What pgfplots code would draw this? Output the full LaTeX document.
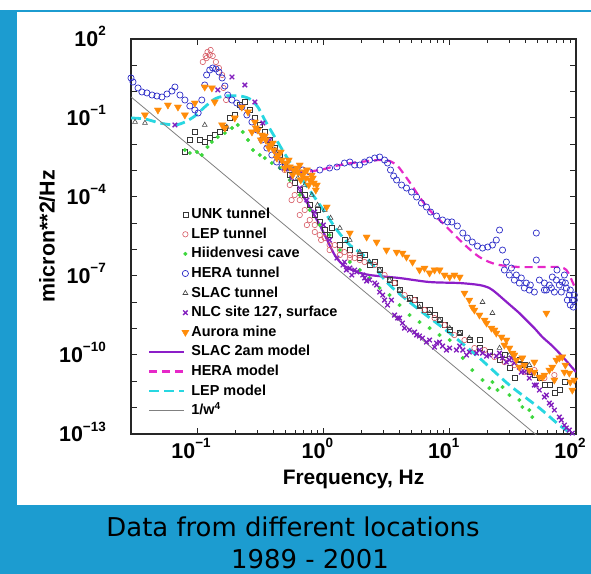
\documentclass[border=0pt]{standalone}
\usepackage{pgfplots}
\pgfplotsset{compat=1.18}
\usepackage{fontspec}
\setmainfont{Liberation Sans}
\newfontfamily\capfont{DejaVu Sans}
\definecolor{frameblue}{RGB}{28,156,208}
\definecolor{unkc}{RGB}{55,55,55}
\definecolor{lepc}{RGB}{215,90,100}
\definecolor{hiic}{RGB}{60,215,60}
\definecolor{herac}{RGB}{45,45,200}
\definecolor{slacc}{RGB}{70,70,70}
\definecolor{nlcc}{RGB}{130,30,190}
\definecolor{aurc}{RGB}{255,140,10}
\definecolor{slacm}{RGB}{140,30,200}
\definecolor{heram}{RGB}{230,40,200}
\definecolor{lepm}{RGB}{40,215,225}
\newcommand{\tl}[1]{{\fontsize{21.5}{21.5}\selectfont\bfseries 10\raisebox{10.5bp}{\fontsize{13.5}{13.5}\selectfont\bfseries #1}}}
\pgfplotsset{
  markleg/.style={legend image code/.code={\path[draw=none,fill=none] (0bp,0bp) -- (41bp,0bp); \draw[##1] plot coordinates {(36bp,0bp)};}},
  lineleg/.style={legend image code/.code={\path[draw=none,fill=none] (0bp,0bp) -- (41bp,0bp); \draw[##1] (0bp,0bp) -- (35bp,0bp);}},
}
\begin{document}
\begin{tikzpicture}[x=1bp,y=1bp]
\useasboundingbox (0,0) rectangle (591,574);
\fill[white] (0,0) rectangle (591,574);
\fill[frameblue] (0,0) rectangle (591,69);
\fill[frameblue] (0,0) rectangle (17,564);
\fill[frameblue] (0,562) rectangle (591,564);
\node[anchor=base] at (293,37) {\capfont\fontsize{26}{26}\selectfont Data from different locations};
\node[anchor=base] at (310,5) {\capfont\fontsize{26}{26}\selectfont 1989 - 2001};
\node[anchor=base] at (353.5,89) {\fontsize{21}{21}\selectfont\bfseries Frequency, Hz};
\node[rotate=90, anchor=center] at (47,338) {\fontsize{21.5}{21.5}\selectfont\bfseries micron**2/Hz};
\begin{axis}[
  at={(131bp,140bp)}, anchor=south west,
  width=445bp, height=395bp, scale only axis,
  xmode=log, ymode=log,
  xmin=0.03, xmax=100, ymin=1e-13, ymax=100,
  xtick={0.1,1,10,100},
  xticklabels={\tl{−1},\tl{0},\tl{1},\tl{2}},
  ytick={1e-13,1e-12,1e-11,1e-10,1e-9,1e-8,1e-7,1e-6,1e-5,1e-4,1e-3,1e-2,1e-1,1,10,100},
  yticklabels={\tl{−13},,,\tl{−10},,,\tl{−7},,,\tl{−4},,,\tl{−1},,,\tl{2}},
  yminorticks=false,
  tick align=inside,
  major tick length=6bp, minor tick length=4bp,
  axis line style={line width=1.3bp, black!85},
  every tick/.style={line width=1bp, black!85},
  xticklabel style={anchor=base, inner sep=0pt, yshift=-24bp, xshift=-6bp},
  yticklabel style={anchor=base east, inner sep=0pt, xshift=-25bp, yshift=-7.5bp},
  legend style={draw=none, fill=none, at={(0.031,0.581)}, anchor=north west,
    font=\fontsize{14.5}{15}\selectfont\bfseries, row sep=3.6bp,
    nodes={inner sep=1bp, text height=11bp, text depth=3bp}},
  legend cell align=left,
]
% UNK tunnel
\addplot[only marks, mark=square, mark size=2.5bp, unkc, line width=0.6bp, markleg] coordinates {
(0.080,5.1e-3)(0.0877,0.0146)(0.0961,0.0294)(0.105,0.0146)(0.115,0.0123)(0.126,0.0174)
(0.138,0.0226)(0.152,0.0294)(0.166,0.0417)(0.182,0.10)(0.199,0.130)(0.218,0.311)
(0.239,0.405)(0.262,0.201)(0.287,0.10)(0.314,0.0542)(0.344,0.0294)(0.377,0.0146)
(0.412,7.25e-3)(0.452,3.93e-3)(0.494,1.64e-3)(0.542,6.84e-4)(0.593,3.4e-4)(0.650,1.84e-4)
(0.712,1.19e-4)(0.780,4.95e-5)(0.855,2.07e-5)(0.936,1.13e-5)(1.025,5.57e-6)(1.12,3.6e-6)
(1.35,1.5e-6)(1.62,9.68e-7)(1.94,4.8e-7)(2.32,2.61e-7)(2.79,1.69e-7)(3.34,7.03e-8)
(4.01,2.93e-8)(4.81,1.45e-8)(5.77,7.89e-9)(6.93,5.09e-9)(8.31,2.12e-9)(10.0,8.87e-10)
(12.0,6.8e-10)(14.3,3.7e-10)(17.2,1.84e-10)(20.6,1.29e-10)(24.8,6.43e-11)(29.7,3.19e-11)
(32.5,1.33e-11)(35.6,6.43e-11)(42.7,2.25e-11)(51.3,1.33e-11)(61.5,7.22e-12)(67.4,3.58e-12)
(73.8,4.66e-12)(80.9,9.4e-12)
(0.90,3.2e-5)(1.17,6.64e-6)(1.47,2.32e-6)(2.12,6.25e-7)(2.55,3.39e-7)(3.66,5.4e-8)
(5.27,1.22e-8)(6.32,5.09e-9)(7.59,3.29e-9)(9.10,1.37e-9)
(17.2,3.7e-10)(27.1,9.96e-11)(56.2,7.22e-12)(46.8,1.73e-11)(39,4.15e-11)
};
\addlegendentry{UNK tunnel}
% LEP tunnel
\addplot[only marks, mark=o, mark size=2.7bp, lepc, line width=0.6bp, markleg] coordinates {
(0.111,13.4)(0.117,22.6)(0.121,32.1)(0.128,38.2)(0.133,22.6)(0.141,13.4)(0.149,7.92)
(0.158,4.30)(0.126,24.7)(0.119,18.9)(0.162,1.38)(0.170,0.482)
(0.412,6.08e-3)(0.452,2.54e-3)(0.494,1.06e-3)(0.542,2.85e-4)(0.593,1.19e-4)(0.650,7.67e-5)
(0.712,3.2e-5)(0.780,1.34e-5)(0.855,8.63e-6)(0.936,3.6e-6)(1.025,2.77e-6)(1.12,1.5e-6)
(1.23,1.5e-6)(1.35,9.68e-7)(1.47,8.1e-7)(1.62,6.25e-7)(1.77,4.8e-7)(1.94,6.25e-7)
(2.12,3.39e-7)(2.55,2.61e-7)(3.05,1.09e-7)(3.66,5.4e-8)(4.39,1.89e-8)(5.27,1.22e-8)
(6.32,5.09e-9)(7.59,2.53e-9)(9.10,1.37e-9)(10.9,5.73e-10)(13.1,3.7e-10)(15.7,1.84e-10)
(18.9,1.54e-10)(22.6,8.4e-11)(27.1,5.4e-11)(32.5,4.15e-11)(39.0,2.25e-11)(46.8,2.68e-11)
(56.2,1.33e-11)(67.4,1.73e-11)
(0.56,7.67e-5)(0.650,2.07e-5)(0.74,8.63e-6)(0.855,4.68e-6)(0.96,2.32e-6)(1.12,9.68e-7)
(1.35,6.25e-7)(1.62,4.8e-7)(1.94,4.04e-7)
};
\addlegendentry{LEP tunnel}
% Hiidenvesi cave
\addplot[only marks, mark=*, mark size=1.8bp, hiic, markleg] coordinates {
(0.0801,6.08e-3)(0.0877,4.68e-3)(0.1,5.1e-3)(0.109,3.93e-3)(0.121,7.9e-3)(0.131,0.0123)
(0.146,0.019)(0.166,0.0269)(0.189,0.0417)(0.210,0.0542)(0.230,0.0294)(0.253,0.0146)
(0.277,6.08e-3)(0.314,3.93e-3)(0.344,3.02e-3)(0.391,1.95e-3)(0.452,1.26e-3)(0.542,4.42e-4)
(0.650,1.19e-4)(0.780,3.2e-5)(0.936,8.63e-6)(1.12,3.6e-6)(1.35,9.68e-7)(1.62,3.39e-7)
(1.94,1.69e-7)(2.32,8.4e-8)(2.79,3.5e-8)(3.34,1.89e-8)(4.01,7.89e-9)(4.81,3.29e-9)
(5.77,1.78e-9)(6.93,1.05e-9)(8.31,5.73e-10)(10,3.7e-10)(12.7,7.7e-11)(15.1,2.68e-11)
(18.2,1.12e-11)(20.6,5.55e-12)(21.8,9.4e-12)(23.9,4.66e-12)(26.2,6.06e-12)(29.7,3.01e-12)
(35.6,1.95e-12)(37.6,1.06e-12)(42.7,8.11e-13)(45.1,4.4e-13)
};
\addlegendentry{Hiidenvesi cave}
% HERA tunnel
\addplot[only marks, mark=o, mark size=3.1bp, herac, line width=0.7bp, markleg] coordinates {
(0.030,3.31)(0.0311,2.33)(0.0341,1.38)(0.0366,0.974)(0.0401,0.894)(0.044,0.746)
(0.0481,0.684)(0.0527,0.627)(0.0578,0.814)(0.0633,1.06)(0.0668,1.50)(0.0732,0.746)
(0.0801,0.482)(0.0877,0.285)(0.0961,0.201)(0.102,0.155)(0.109,0.482)(0.115,1.79)
(0.119,4.30)(0.126,6.65)(0.133,7.92)(0.141,7.26)(0.149,5.58)(0.158,3.31)(0.166,1.64)
(0.175,0.746)(0.189,0.482)(0.206,0.371)(0.226,0.261)(0.248,0.130)(0.272,0.0704)
(0.298,0.035)(0.326,0.0146)(0.357,7.25e-3)(0.391,3.93e-3)(0.427,2.13e-3)(0.469,1.38e-3)
(0.523,1.26e-3)(0.593,1.06e-3)(0.686,1.06e-3)(0.780,8.9e-4)(0.936,1.06e-3)(1.12,1.26e-3)
(1.28,1.38e-3)(1.47,1.95e-3)(1.62,2.13e-3)(1.77,1.64e-3)(1.94,1.64e-3)(2.12,2.13e-3)
(2.32,2.54e-3)(2.55,3.02e-3)(2.79,3.3e-3)(3.05,2.54e-3)(3.22,1.95e-3)(3.40,1.06e-3)
(3.60,6.27e-4)(3.80,4.42e-4)(4.16,2.85e-4)(4.55,2.19e-4)(4.99,1.54e-4)(5.47,1.0e-4)
(5.98,5.9e-5)(6.55,4.16e-5)(7.06,2.69e-5)(7.87,1.9e-5)(8.78,1.34e-5)(9.61,1.13e-5)
(10.4,1.13e-5)(11.5,7.9e-6)(12.7,4.28e-6)(13.8,2.77e-6)(15.1,1.95e-6)(16.6,1.37e-6)
(18.2,1.15e-6)(20.0,1.26e-6)(21.8,1.5e-6)(23.4,2.32e-6)(24.8,5.57e-6)(26.2,9.68e-7)
(28.1,3.39e-7)(30.8,2.0e-7)(33.7,1.09e-7)(36.9,8.4e-8)(40.4,5.4e-8)(43.5,4.54e-8)
(48.5,4.28e-6)(48.5,4.04e-7)(51.3,7.03e-8)(56.2,5.4e-8)(61.5,4.54e-8)(64.9,9.15e-8)
(69.9,7.03e-8)(73.8,4.54e-8)(77.9,5.9e-8)(83.9,3.5e-8)(88.5,1.89e-8)(93.5,1.22e-8)
(95.2,6.6e-9)(29.7,1.09e-7)(35.6,5.4e-8)(42.7,2.93e-8)(58.3,2.93e-8)(67.4,2.46e-8)
(80.9,1.09e-7)(85.4,1.22e-8)(97,1.89e-8)(70.7,1.69e-7)
(27.1,1.69e-7)(32.5,7.03e-8)(39.0,3.5e-8)(46.8,2.46e-8)(56.2,2.93e-8)(63.8,3.5e-8)
(76.5,2.46e-8)(82.4,5.4e-8)(90.1,2.93e-8)(97,1.22e-8)(90.1,7.89e-9)
};
\addlegendentry{HERA tunnel}
% SLAC tunnel
\addplot[only marks, mark=triangle, mark size=2.8bp, slacc, line width=0.6bp, markleg] coordinates {
(0.0323,0.0704)(0.0387,0.0645)(0.115,0.0542)(0.172,0.0455)(0.364,0.0146)(0.412,6.08e-3)
(0.469,2.54e-3)(0.542,1.26e-3)(0.627,5.26e-4)(0.712,2.85e-4)(0.809,1.19e-4)(0.90,4.95e-5)
(1.025,3.2e-5)(1.14,1.59e-5)(1.35,6.64e-6)(1.62,2.32e-6)(1.94,8.1e-7)(2.32,3.39e-7)
(2.79,1.69e-7)(3.34,7.03e-8)(4.01,2.93e-8)(4.81,1.22e-8)(5.77,6.6e-9)(6.93,3.9e-9)
(8.31,2.12e-9)(10,1.05e-9)(12.0,6.8e-10)(14.3,4.4e-10)(18.2,1.02e-8)(21.8,3.9e-9)
(24.8,1.84e-10)(29.7,9.96e-11)(35.6,6.43e-11)(42.7,4.15e-11)
};
\addlegendentry{SLAC tunnel}
% NLC site 127
\addplot[only marks, mark=x, mark size=3.2bp, nlcc, line width=1.3bp, markleg] coordinates {
(0.0668,0.0542)(0.146,1.16)(0.189,3.61)(0.239,1.79)(0.287,0.405)(0.332,0.0645)
(0.377,0.0146)(0.435,3.93e-3)(0.494,1.26e-3)(0.562,5.26e-4)(0.650,2.19e-4)(0.74,7.67e-5)
(0.855,2.69e-5)(1.0,8.63e-6)(1.12,2.32e-6)(1.28,4.8e-7)(1.43,2.61e-7)(1.62,2.0e-7)
(1.84,1.42e-7)(2.05,1.09e-7)(2.32,7.03e-8)(2.64,4.54e-8)(2.95,1.89e-8)(3.22,7.89e-9)
(3.66,3.29e-9)(4.23,1.63e-9)(4.81,8.87e-10)(5.47,5.73e-10)(6.09,4.4e-10)(6.93,3.7e-10)
(7.87,2.85e-10)(8.78,2.19e-10)(10,1.84e-10)(11.3,1.54e-10)(12.7,1.54e-10)(14.3,1.29e-10)
(16.3,1.18e-10)(18.2,1.18e-10)(20.6,9.96e-11)(23.4,9.1e-11)(26.2,7.7e-11)(29.7,6.43e-11)
(32.5,4.95e-11)(35.6,3.48e-11)(39.0,2.25e-11)(42.7,1.33e-11)(46.8,7.22e-12)(51.3,4.66e-12)
(56.2,2.53e-12)(61.5,1.5e-12)(67.4,8.11e-13)(73.8,4.4e-13)(80.9,2.18e-13)(88.5,1.41e-13)
(93.5,1.08e-13)
(1.47,3.39e-7)(1.77,1.69e-7)(2.12,8.4e-8)(2.55,5.4e-8)(2.79,2.46e-8)(3.46,1.22e-8)
(3.87,2.53e-9)(5.27,7.45e-10)(8.31,3.1e-10)(12.0,2.19e-10)(17.2,1.54e-10)(24.8,1.18e-10)
(30.8,7.7e-11)(43.5,2.25e-11)(58.3,3.01e-12)(76.5,3.38e-13)
(1.52,1.69e-7)(1.68,1.09e-7)(2.2,6.44e-8)(3.05,1.22e-8)(4.01,2.53e-9)(4.39,1.05e-9)
(5.77,5.25e-10)(6.55,3.1e-10)(7.59,2.0e-10)(9.43,1.54e-10)(13.6,9.96e-11)(19.6,9.1e-11)
(28.1,5.4e-11)(36.9,2.25e-11)(48.5,7.22e-12)(63.8,1.26e-12)(83.9,1.7e-13)
};
\addlegendentry{NLC site 127, surface}
% Aurora mine
\addplot[only marks, mark=triangle*, mark size=4.1bp, mark options={rotate=180}, aurc, markleg] coordinates {
(0.0387,0.130)(0.049,0.201)(0.0588,0.311)(0.0706,0.261)(0.0801,0.130)(0.0961,0.371)
(0.115,1.50)(0.131,1.38)(0.138,0.405)(0.158,0.0542)(0.166,0.0417)(0.199,0.10)
(0.226,0.261)(0.253,0.169)(0.287,0.0704)(0.303,0.035)(0.326,0.0226)(0.350,0.0146)
(0.377,9.42e-3)(0.405,6.08e-3)(0.435,3.93e-3)(0.469,2.54e-3)(0.503,1.95e-3)(0.542,1.38e-3)
(0.582,1.06e-3)(0.627,8.9e-4)(0.674,6.84e-4)(0.725,5.26e-4)(0.780,4.42e-4)(0.84,3.4e-4)
(0.887,2.85e-4)(0.650,1.64e-3)(0.74,1.06e-3)(0.809,6.84e-4)(1.063,4.16e-5)(1.62,4.28e-6)
(2.2,3.02e-6)(2.64,1.95e-6)(3.16,9.68e-7)(3.80,8.1e-7)(4.23,7.4e-7)(4.55,5.25e-7)
(5.08,3.39e-7)(5.77,1.69e-7)(6.32,2.0e-7)(6.93,1.3e-7)(7.59,1.69e-7)(8.31,1.69e-7)
(9.10,1.09e-7)(10,9.15e-8)(10.9,1.09e-7)(12.0,9.15e-8)(13.1,2.25e-8)(14.3,1.22e-8)
(15.1,6.6e-9)(17.2,3.29e-9)(19.6,1.63e-9)(21.4,1.05e-9)(23.4,6.8e-10)(25.7,4.81e-10)
(28.1,3.7e-10)(29.7,1.84e-10)(31.4,1.18e-10)(33.7,6.43e-11)(35.6,3.48e-11)(39.0,4.15e-11)
(42.7,2.68e-11)(46.8,2.25e-11)(51.3,1.45e-11)(54.2,1.45e-11)(58.3,3.9e-9)(61.5,2.68e-11)
(64.9,3.48e-11)(69.9,6.43e-11)(73.8,7.7e-11)(77.9,8.4e-11)(82.4,4.15e-11)(88.5,2.06e-11)
(93.5,4.66e-12)(97,1.12e-11)
(27.1,2.39e-10)(32.5,9.96e-11)(37.6,7.7e-11)(46.8,5.4e-11)(56.2,1.73e-11)(67.4,1.12e-11)
(80.9,2.25e-11)(90.1,9.4e-12)(15.7,5.09e-9)(18.9,2.12e-9)(22.6,8.87e-10)
(0.272,0.0294)(0.292,0.0417)(0.320,0.0146)(0.344,0.0207)(0.370,7.25e-3)(0.398,0.0112)
(0.427,3.02e-3)(0.460,5.1e-3)(0.494,1.26e-3)(0.532,2.54e-3)(0.572,6.84e-4)(0.616,1.26e-3)
(0.662,4.42e-4)(0.712,8.9e-4)(0.766,2.85e-4)(0.825,5.26e-4)(0.871,1.84e-4)
};
\addlegendentry{Aurora mine}
% SLAC 2am model
\addplot[slacm, line width=2.2bp, smooth, lineleg] coordinates {
(0.650,1.84e-4)(0.936,8.63e-6)(1.23,6.25e-7)(1.47,2.39e-7)(1.77,1.55e-7)(2.32,1.09e-7)
(4.01,8.37e-8)(6.93,5.9e-8)(12.0,5.4e-8)(17.2,4.54e-8)(20.6,3.5e-8)(23.4,2.25e-8)
(27.1,1.22e-8)(31.4,6.6e-9)(35.6,3.9e-9)(40.4,2.12e-9)(46.8,1.05e-9)(54.2,4.81e-10)
(63.8,2.39e-10)(73.8,1.18e-10)(85.4,5.4e-11)(100,2.25e-11)
};
\addlegendentry{SLAC 2am model}
% HERA model
\addplot[heram, line width=2.2bp, dash pattern=on 8bp off 5bp, smooth, lineleg] coordinates {
(0.494,1.26e-3)(0.650,8.9e-4)(0.936,1.06e-3)(1.35,1.64e-3)(1.94,2.13e-3)(2.79,2.54e-3)
(3.34,2.33e-3)(3.87,1.5e-3)(4.39,6.84e-4)(4.99,2.85e-4)(5.77,1.0e-4)(6.93,3.2e-5)
(8.31,1.34e-5)(10,5.57e-6)(12.0,2.32e-6)(14.3,1.06e-6)(17.2,5.25e-7)(20.6,3.39e-7)
(24.8,2.61e-7)(35.6,2.19e-7)(51.3,2.19e-7)(73.8,2.19e-7)(83.9,1.69e-7)(90.1,9.15e-8)
(100,2.93e-8)
};
\addlegendentry{HERA model}
% LEP model
\addplot[lepm, line width=2.8bp, dash pattern=on 10bp off 5bp, smooth, lineleg] coordinates {
(0.030,0.10)(0.0387,0.0916)(0.0508,0.0645)(0.0668,0.0542)(0.0801,0.0704)(0.0961,0.119)
(0.115,0.261)(0.138,0.526)(0.166,0.684)(0.218,0.684)(0.262,0.526)(0.303,0.261)
(0.344,0.0839)(0.412,0.019)(0.542,2.13e-3)(0.650,6.27e-4)(1.0,3.2e-5)(1.28,5.57e-6)
(1.62,1.5e-6)(2.2,4.8e-7)(3.34,4.54e-8)(5.77,5.09e-9)(10,6.8e-10)(17.2,7.7e-11)
(29.7,7.22e-12)(51.3,9.7e-13)(73.8,2.18e-13)(100,7.6e-14)
};
\addlegendentry{LEP model}
% 1/w^4
\addplot[gray, line width=0.8bp, lineleg] coordinates {(0.03,0.631)(100,5.1e-15)};
\addlegendentry{1/w\textsuperscript{4}}
\end{axis}
\end{tikzpicture}
\end{document}
